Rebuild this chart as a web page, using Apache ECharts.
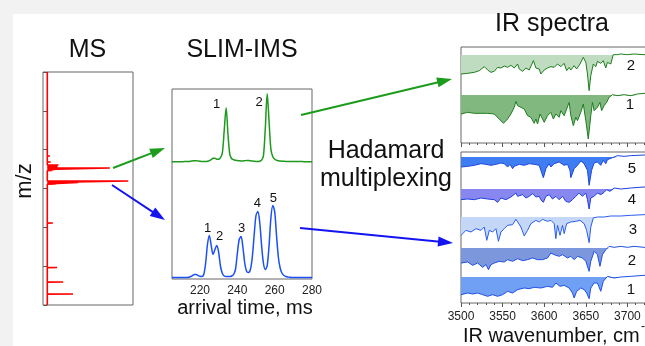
<!DOCTYPE html>
<html><head><meta charset="utf-8">
<script src="https://cdn.jsdelivr.net/npm/echarts@6/dist/echarts.min.js"></script>
<style>html,body{margin:0;padding:0;background:#fff}#c{width:645px;height:346px}</style>
</head><body><div id="c"></div>
<script>
// ---------------- DATA ----------------
// MS stick spectrum (m/z axis unlabeled, arbitrary units), intensity in %
const msMz  = [428.3, 438.6, 459.2, 469.5, 496.6, 503.0, 533.9, 559.7, 611.2, 662.7, 711.6, 715.4, 719.3, 746.3, 748.9, 752.8, 756.6, 760.5, 768.2, 783.7, 837.8, 881.5, 958.8];
const msInt = [30,    1.5,   18.5,  1.5,   11.5,  2,     1.5,   1.5,   6.5,   1.5,   10,    36,    94.5,  6,     9,     73,    12,    13,    4,     3,     1.5,   1.5,   2];
const msTicks = [400, 500, 600, 700, 800, 900, 1000];

// SLIM-IMS arrival time distributions
const imsTime = [205,206,207,208,209,210,211,212,213,214,215,216,217,218,219,220,221,222,223,224,225,226,227,228,229,230,231,232,233,234,235,236,237,238,239,240,241,242,243,244,245,246,247,248,249,250,251,252,253,254,255,256,257,258,259,260,261,262,263,264,265,266,267,268,269,270,271,272,273,274,275,276,277,278,279,280];
const imsGreen = [0,0,0,0,0,0,0,0.2,0.2,0.3,0.5,0.8,1,1,0.7,0.4,0.3,0.3,0.3,0.5,1,2,3.5,3.5,2.5,2.5,4,9,32,54,27,7,3,2,1.5,1.2,1,0.8,0.8,1,1.2,1.2,1,0.6,0.4,0.3,0.3,0.5,1.5,6,34,68,40,12,5,2.5,1.5,1,0.7,0.5,0.4,0.3,0.3,0.2,0.2,0.2,0.1,0.1,0.1,0.1,0.1,0,0,0,0,0];
const imsBlue  = [0,0,0,0,0,0,0,0,0,0.3,1,2,3,3,2,1.2,1,3,14,33,42,32,23,28,32,25,11,4,1.5,1,1,1,1.5,3,8,24,38,41,30,14,6,5,8,20,42,62,66,55,32,14,8,12,32,60,72,66,42,20,9,4,2,1,0.5,0.3,0,0,0,0,0,0,0,0,0,0,0,0];
const imsTickLabels = [220, 240, 260, 280];
const imsGreenPeaks = ['1', '2'];
const imsBluePeaks = ['1', '2', '3', '4', '5'];

// IR spectra: [wavenumber, signal relative to the reference level]
const irG2 = [[3500,-57],[3508,-55],[3516,-52],[3522,-47],[3528,-35],[3532,-45],[3536,-52],[3540,-49],[3544,-37],[3548,-39],[3552,-33],[3556,-37],[3560,-31],[3564,-39],[3568,-27],[3570,-42],[3574,-49],[3578,-39],[3582,-45],[3587,-17],[3590,-39],[3594,-42],[3596,-57],[3600,-45],[3604,-39],[3608,-35],[3612,-37],[3616,-27],[3620,-35],[3624,-25],[3627,-47],[3630,-37],[3632,-45],[3636,-32],[3639,-42],[3643,-27],[3647,-7],[3650,-22],[3652,-57],[3654,-107],[3656,-62],[3659,-27],[3662,-35],[3664,-19],[3668,-25],[3671,-17],[3674,-39],[3676,-22],[3680,-27],[3683,1],[3688,1],[3692,3],[3700,1],[3708,3],[3720,1],[3750,2]];
const irG1 = [[3500,-57],[3508,-52],[3516,-55],[3524,-55],[3532,-55],[3540,-57],[3546,-72],[3551,-85],[3556,-72],[3560,-57],[3564,-37],[3566,-19],[3568,-32],[3572,-37],[3576,-42],[3580,-62],[3584,-67],[3588,-85],[3590,-72],[3592,-87],[3595,-57],[3598,-72],[3600,-82],[3604,-62],[3608,-52],[3611,-72],[3614,-57],[3618,-67],[3620,-47],[3624,-62],[3627,-42],[3630,-22],[3632,-62],[3635,-92],[3638,-67],[3640,-77],[3644,-52],[3647,-27],[3650,-77],[3653,-132],[3656,-62],[3658,-22],[3660,-47],[3664,-37],[3667,-22],[3669,-47],[3672,-32],[3675,-22],[3678,-7],[3682,1],[3688,-2],[3696,1],[3704,-2],[3712,3],[3720,5],[3750,5]];
const irB5 = [[3500,-30],[3508,-28],[3516,-25],[3524,-20],[3530,-22],[3536,-25],[3542,-22],[3548,-18],[3552,-20],[3556,-30],[3559,-22],[3562,-35],[3564,-28],[3570,-22],[3576,-25],[3582,-20],[3588,-22],[3594,-25],[3596,-40],[3599,-62],[3602,-35],[3606,-20],[3608,-30],[3612,-20],[3618,-15],[3624,-25],[3628,-22],[3631,-40],[3632,-62],[3636,-35],[3640,-25],[3644,-12],[3648,-20],[3652,-40],[3654,-85],[3657,-40],[3660,-18],[3664,-15],[3668,-25],[3671,-10],[3674,-20],[3676,-8],[3682,-2],[3688,4],[3696,2],[3704,4],[3720,6],[3750,6]];
const irB4 = [[3500,-32],[3508,-30],[3516,-32],[3524,-27],[3532,-30],[3540,-32],[3544,-40],[3548,-27],[3554,-32],[3560,-24],[3566,-12],[3568,-22],[3574,-17],[3578,-27],[3582,-22],[3586,-14],[3590,-24],[3594,-22],[3596,-32],[3599,-40],[3602,-22],[3606,-17],[3610,-30],[3614,-22],[3618,-32],[3622,-22],[3626,-37],[3630,-40],[3634,-32],[3638,-22],[3642,-12],[3646,-22],[3650,-12],[3652,-32],[3654,-60],[3656,-27],[3660,-22],[3664,-12],[3668,-17],[3672,-10],[3675,-2],[3679,-7],[3684,3],[3692,0],[3704,3],[3720,6],[3750,6]];
const irB3 = [[3500,-55],[3506,-40],[3512,-45],[3518,-35],[3524,-40],[3528,-30],[3531,-70],[3534,-40],[3538,-45],[3542,-35],[3545,-73],[3548,-45],[3552,-35],[3556,-25],[3562,-23],[3566,-7],[3568,-13],[3572,-30],[3576,-57],[3580,-40],[3584,-20],[3590,-10],[3594,-15],[3598,-7],[3604,-13],[3608,-10],[3612,-20],[3614,-65],[3616,-25],[3619,-55],[3622,-25],[3624,-50],[3627,-20],[3632,-15],[3638,-13],[3643,-10],[3648,-20],[3651,-40],[3654,-77],[3656,-30],[3659,-3],[3664,0],[3672,0],[3680,3],[3692,3],[3704,5],[3720,7],[3750,7]];
const irB2 = [[3500,-45],[3508,-42],[3514,-52],[3520,-45],[3526,-58],[3530,-50],[3533,-65],[3536,-50],[3540,-45],[3546,-40],[3552,-42],[3556,-35],[3562,-40],[3568,-32],[3574,-38],[3580,-35],[3586,-30],[3592,-35],[3598,-35],[3604,-30],[3608,-15],[3612,-20],[3618,-25],[3622,-20],[3628,-30],[3632,-25],[3636,-35],[3640,-25],[3646,-30],[3650,-40],[3654,-70],[3656,-40],[3660,-10],[3664,-20],[3667,-55],[3670,-20],[3674,-5],[3678,5],[3684,2],[3692,5],[3700,2],[3708,5],[3720,2],[3750,3]];
const irB1 = [[3500,-53],[3508,-48],[3514,-51],[3520,-48],[3526,-53],[3532,-58],[3538,-53],[3544,-58],[3550,-53],[3556,-43],[3562,-48],[3568,-38],[3576,-33],[3582,-35],[3588,-31],[3596,-33],[3604,-28],[3610,-31],[3614,-18],[3619,-28],[3624,-25],[3630,-33],[3634,-48],[3636,-63],[3639,-43],[3644,-33],[3648,-38],[3651,-48],[3654,-65],[3656,-33],[3660,-18],[3664,-18],[3668,-43],[3671,-13],[3676,2],[3684,-3],[3692,0],[3704,2],[3720,5],[3750,5]];
const irTickLabels = [3500, 3550, 3600, 3650, 3700, 3750];

// ---------------- LAYOUT / STYLE ----------------
const FONT = '"Liberation Sans", Arial, Helvetica, sans-serif';
const chart = echarts.init(document.getElementById('c'), null, {renderer: 'canvas'});

// MS stick line
const msLine = [[0, 400]];
msMz.forEach((m, i) => { msLine.push([0, m - 0.4], [msInt[i], m], [0, m + 0.4]); });
msLine.push([0, 1000]);

const GREEN_OFF = 117.3, BLUE_OFF = 1.5;

const irRowsTop = [
  {data: irG2, off: 264, fill: '#c0dcc0', line: '#1d7d1d'},
  {data: irG1, off: 144, fill: '#80b880', line: '#1d7d1d'}
];
const irRowsBot = [
  {data: irB5, off: 438, fill: '#3f7ef2', line: '#1a44dd'},
  {data: irB4, off: 342, fill: '#8787ef', line: '#1f3fe0'},
  {data: irB3, off: 258, fill: '#c4d7f9', line: '#2a5cf0'},
  {data: irB2, off: 165, fill: '#7d97dd', line: '#1f4fe6'},
  {data: irB1, off: 78,  fill: '#70a0f3', line: '#1f4fe6'}
];

const series = [];
series.push({type: 'line', xAxisIndex: 0, yAxisIndex: 0, data: msLine, symbol: 'none',
  lineStyle: {color: '#ff0000', width: 1.6}, z: 5, animation: false});
series.push({type: 'line', xAxisIndex: 1, yAxisIndex: 1, data: imsTime.map((t, i) => [t, GREEN_OFF + imsGreen[i]]),
  symbol: 'none', smooth: 0.3, lineStyle: {color: '#1c9a1c', width: 1.5}, animation: false});
series.push({type: 'line', xAxisIndex: 1, yAxisIndex: 1, data: imsTime.map((t, i) => [t, BLUE_OFF + imsBlue[i]]),
  symbol: 'none', smooth: 0.3, lineStyle: {color: '#1a50f5', width: 1.5}, animation: false});

function addIR(idx, rows) {
  rows.forEach(r => {
    // filled band between the reference level and the trace (only where the trace dips below it)
    series.push({type: 'line', xAxisIndex: idx, yAxisIndex: idx,
      data: r.data.map(p => [p[0], r.off + Math.min(0, p[1])]), symbol: 'none',
      lineStyle: {width: 0, opacity: 0}, areaStyle: {color: r.fill, opacity: 1, origin: r.off},
      z: 3, animation: false, silent: true});
    series.push({type: 'line', xAxisIndex: idx, yAxisIndex: idx,
      data: r.data.map(p => [p[0], r.off + p[1]]), symbol: 'none',
      lineStyle: {color: r.line, width: 1}, z: 6, animation: false});
  });
}
addIR(2, irRowsTop);
addIR(3, irRowsBot);

const hidden = {axisLine: {show: false}, axisTick: {show: false}, axisLabel: {show: false}, splitLine: {show: false}};
const irX = (labels) => ({type: 'value', min: 3500, max: 3750, interval: 50,
  axisLine: {show: false}, splitLine: {show: false},
  axisTick: {show: true, inside: false, length: 4, lineStyle: {color: '#555'}},
  minorTick: {show: true, splitNumber: 5, length: 2, lineStyle: {color: '#555'}},
  axisLabel: {show: labels, fontSize: 12, color: '#222', margin: 8, fontFamily: FONT,
    formatter: v => irTickLabels.includes(v) ? String(v) : ''}});

function txt(t, x, y, size, extra) {
  return Object.assign({type: 'text', x: x, y: y, z: 50,
    style: {text: t, fill: '#111', font: size + 'px ' + FONT, fontSize: size, fontFamily: FONT,
      align: 'center', verticalAlign: 'middle', textAlign: 'center', textVerticalAlign: 'middle'}}, extra || {});
}
function arrow(x1, y1, x2, y2, color) {
  const L = 15, W = 5;
  const dx = x2 - x1, dy = y2 - y1, len = Math.hypot(dx, dy), ux = dx / len, uy = dy / len;
  const bx = x2 - ux * L, by = y2 - uy * L;
  return [
    {type: 'line', z: 100, shape: {x1: x1, y1: y1, x2: bx + ux * 2, y2: by + uy * 2}, style: {stroke: color, lineWidth: 2}},
    {type: 'polygon', z: 100, shape: {points: [[x2, y2], [bx - uy * W, by + ux * W], [bx + uy * W, by - ux * W]]}, style: {fill: color}}
  ];
}

const graphics = [
  {type: 'rect', z: -10, shape: {x: 0, y: 0, width: 13, height: 346}, style: {fill: '#f2f2f2'}},
  {type: 'rect', z: -10, shape: {x: 0, y: 0, width: 645, height: 14}, style: {fill: '#f2f2f2'}},
  txt('MS', 87.5, 50, 25),
  txt('SLIM-IMS', 242, 50, 25),
  txt('IR spectra', 552, 24, 25),
  txt('Hadamard', 386, 151.5, 25),
  txt('multiplexing', 386, 179.5, 25),
  txt('m/z', 25, 181, 22, {rotation: Math.PI / 2}),
  txt('arrival time, ms', 245, 308, 20),
  {type: 'text', x: 463, y: 336.5, z: 50, style: {text: 'IR wavenumber, cm', fill: '#111', font: '20px ' + FONT,
    align: 'left', verticalAlign: 'middle', textAlign: 'left', textVerticalAlign: 'middle'}},
  {type: 'text', x: 641, y: 327, z: 50, style: {text: '-1', fill: '#111', font: '12px ' + FONT,
    align: 'left', verticalAlign: 'middle', textAlign: 'left', textVerticalAlign: 'middle'}},
  // IMS peak numbers
  txt(imsGreenPeaks[0], 216.5, 104.5, 13), txt(imsGreenPeaks[1], 259, 102, 13),
  txt(imsBluePeaks[0], 207.5, 228, 13), txt(imsBluePeaks[1], 219.7, 236.7, 13),
  txt(imsBluePeaks[2], 241.7, 228, 13), txt(imsBluePeaks[3], 257.3, 203, 13),
  txt(imsBluePeaks[4], 273.3, 198, 13),
  // IR row numbers
  txt('2', 631, 65.5, 15), txt('1', 630, 105, 15),
  txt('5', 632, 168.5, 15), txt('4', 632, 200, 15), txt('3', 633, 230, 15),
  txt('2', 632, 260.5, 15), txt('1', 631, 290, 15)
].concat(
  arrow(113, 168, 165, 148, '#1c9c1c'),
  arrow(112, 185, 165, 220, '#1414f0'),
  arrow(301, 115, 452, 79, '#1c9c1c'),
  arrow(300, 228, 453, 243, '#1414f0')
);

const gridBase = {show: true, borderColor: '#666', borderWidth: 1, outerBoundsMode: 'none', containLabel: false};
const option = {
  backgroundColor: '#ffffff',
  animation: false,
  grid: [
    Object.assign({left: 43, top: 72, width: 90, height: 233}, gridBase),
    Object.assign({left: 172, top: 89, width: 140, height: 190}, gridBase),
    Object.assign({left: 461, top: 47, width: 208, height: 96}, gridBase),
    Object.assign({left: 461, top: 152, width: 208, height: 151}, gridBase)
  ],
  xAxis: [
    Object.assign({type: 'value', gridIndex: 0, min: -5, max: 100}, hidden),
    {type: 'value', gridIndex: 1, min: 205, max: 280, splitNumber: 4,
      axisLine: {show: false}, axisTick: {show: false}, splitLine: {show: false},
      axisLabel: {show: true, fontSize: 12, color: '#222', margin: 6, fontFamily: FONT, showMinLabel: false,
        formatter: v => imsTickLabels.includes(v) ? String(v) : ''}},
    Object.assign(irX(false), {gridIndex: 2}),
    Object.assign(irX(true), {gridIndex: 3})
  ],
  yAxis: [
    {type: 'value', gridIndex: 0, min: msTicks[0], max: msTicks[msTicks.length - 1], interval: 100,
      axisLine: {show: false}, axisLabel: {show: false}, splitLine: {show: false},
      axisTick: {show: true, inside: false, length: 4, lineStyle: {color: '#555'}}},
    Object.assign({type: 'value', gridIndex: 1, min: 0, max: 190}, hidden),
    Object.assign({type: 'value', gridIndex: 2, min: 0, max: 288}, hidden),
    Object.assign({type: 'value', gridIndex: 3, min: 0, max: 453}, hidden)
  ],
  series: series,
  graphic: {elements: graphics}
};
chart.setOption(option);
</script></body></html>
